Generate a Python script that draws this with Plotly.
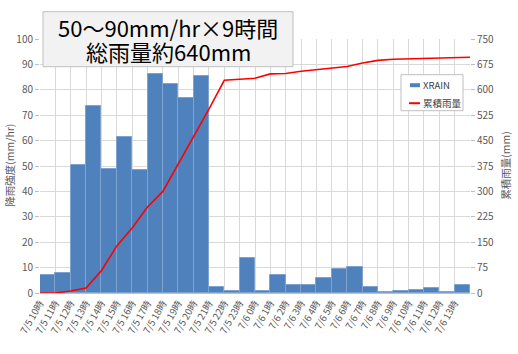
import plotly.graph_objects as go

categories = ["7/5 10時", "7/5 11時", "7/5 12時", "7/5 13時", "7/5 14時", "7/5 15時", "7/5 16時",
              "7/5 17時", "7/5 18時", "7/5 19時", "7/5 20時", "7/5 21時", "7/5 22時", "7/5 23時",
              "7/6 0時", "7/6 1時", "7/6 2時", "7/6 3時", "7/6 4時", "7/6 5時", "7/6 6時",
              "7/6 7時", "7/6 8時", "7/6 9時", "7/6 10時", "7/6 11時", "7/6 12時", "7/6 13時"]
xrain = [7.1, 7.9, 50.5, 73.8, 48.7, 61.3, 48.3, 86.2, 82.3, 76.6, 85.4, 2.4, 0.6, 13.8,
         0.8, 7.2, 3.0, 3.0, 6.1, 9.4, 10.2, 2.2, 0.2, 0.9, 1.2, 1.8, 0.4, 3.0]
cumulative = [0, 0, 6, 15, 66, 139, 192, 254, 300, 381, 461, 543, 628, 631, 634,
              647, 648, 655, 660, 664, 669, 679, 687, 690, 691, 692, 694, 695, 696]
series_names = ["XRAIN", "累積雨量"]
title_lines = ["50～90mm/hr×9時間", "総雨量約640mm"]

left_ticks = list(range(0, 101, 10))
right_ticks = list(range(0, 751, 75))

n = len(categories)
bar_x = [i + 0.5 for i in range(n)]
line_x = list(range(len(cumulative)))

font_family = "Noto Sans CJK JP"
gray = "#595959"
bar_color = "#4f81bd"
line_color = "#ff0000"

# plot area in pixels: x 40..470, y 39.3..293.3
def px(X):
    return (X - 40) / 430

def py(Y):
    return (293.3 - Y) / 254

fig = go.Figure()
fig.add_trace(go.Bar(
    x=bar_x, y=xrain, width=1, name=series_names[0],
    marker=dict(color=bar_color, line=dict(color="#7fa3d1", width=1)),
))
fig.add_trace(go.Scatter(
    x=line_x, y=cumulative, name=series_names[1], mode="lines", yaxis="y2",
    line=dict(color=line_color, width=1.6),
))

shapes = [
    # title box
    dict(type="rect", xref="paper", yref="paper", x0=px(43), x1=px(293), y0=py(12), y1=py(67),
         fillcolor="#f2f2f2", line=dict(color="#bfbfbf", width=1), layer="above"),
    # legend box
    dict(type="rect", xref="paper", yref="paper", x0=px(401), x1=px(463), y0=py(75), y1=py(111),
         fillcolor="white", line=dict(color="#bfbfbf", width=1), layer="above"),
    dict(type="rect", xref="paper", yref="paper", x0=px(410), x1=px(420), y0=py(83.5), y1=py(87.5),
         fillcolor=bar_color, line=dict(width=0), layer="above"),
    dict(type="line", xref="paper", yref="paper", x0=px(409), x1=px(420), y0=py(103.5), y1=py(103.5),
         line=dict(color=line_color, width=2), layer="above"),
]

fig.update_layout(
    width=518, height=354,
    margin=dict(l=40, r=48, t=39, b=61),
    paper_bgcolor="white", plot_bgcolor="white",
    font=dict(family=font_family, size=10, color=gray),
    bargap=0,
    showlegend=False,
    xaxis=dict(range=[0, n], tickmode="array",
               tickvals=list(range(n + 1)), ticktext=categories + [""],
               tickangle=-60, tickfont=dict(size=9.5, color=gray),
               showgrid=True, gridcolor="#d9d9d9", gridwidth=1,
               showline=True, linecolor="#bfbfbf", zeroline=False,
               ticks="", fixedrange=True),
    yaxis=dict(range=[0, 100], tickmode="array", tickvals=left_ticks,
               showgrid=True, gridcolor="#d9d9d9", zeroline=False,
               ticks="outside", ticklen=4, tickcolor="#bfbfbf",
               tickfont=dict(size=10, color=gray), showline=False),
    yaxis2=dict(range=[0, 750], tickmode="array", tickvals=right_ticks,
                overlaying="y", side="right", showgrid=False, zeroline=False,
                ticks="outside", ticklen=4, tickcolor="#bfbfbf",
                tickfont=dict(size=10, color=gray), showline=False),
    shapes=shapes,
    annotations=[
        dict(text=title_lines[0], xref="paper", yref="paper",
             x=px(168), y=py(27), xanchor="center", yanchor="middle",
             showarrow=False, font=dict(size=22, color="black", family=font_family)),
        dict(text=title_lines[1], xref="paper", yref="paper",
             x=px(168), y=py(51), xanchor="center", yanchor="middle",
             showarrow=False, font=dict(size=22, color="black", family=font_family)),
        dict(text="降雨強度(mm/hr)", xref="paper", yref="paper",
             x=px(10), y=py(166), xanchor="center", yanchor="middle",
             textangle=-90, showarrow=False, font=dict(size=10.5, color=gray)),
        dict(text="累積雨量(mm)", xref="paper", yref="paper",
             x=px(506), y=py(166), xanchor="center", yanchor="middle",
             textangle=-90, showarrow=False, font=dict(size=10.5, color=gray)),
        dict(text=series_names[0], xref="paper", yref="paper",
             x=px(420.5), y=py(85.5), xanchor="left", yanchor="middle",
             showarrow=False, font=dict(size=9.5, color="#404040")),
        dict(text=series_names[1], xref="paper", yref="paper",
             x=px(420.5), y=py(103.5), xanchor="left", yanchor="middle",
             showarrow=False, font=dict(size=9.5, color="#404040")),
    ],
)

fig.write_html("out.html")
